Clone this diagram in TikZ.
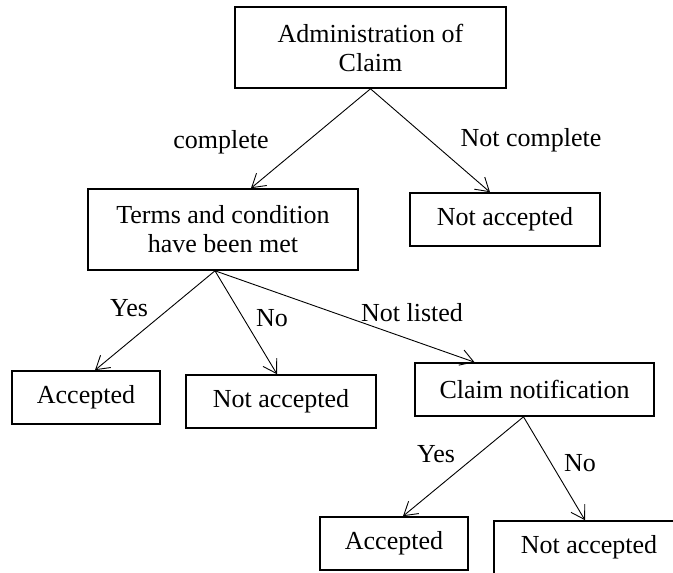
\documentclass[tikz,border=0pt]{standalone}
\usepackage{fontspec}
\setmainfont{Liberation Serif}
\usetikzlibrary{arrows.meta}

\begin{document}
\begin{tikzpicture}[x=1pt, y=-1pt,
    box/.style={draw, line width=1.6pt, inner sep=0pt, align=center, font=\fontsize{26}{29}\selectfont},
    lbl/.style={anchor=base, inner sep=0pt, font=\fontsize{26}{29}\selectfont},
    flow/.style={-{Straight Barb[length=13pt, width=16pt]}, line width=0.9pt}]
  % claim decision tree, laid out in pixel units with y running down
  \useasboundingbox (0,0) rectangle (673,573);
  \node[box, minimum width=271pt, minimum height=81pt] (admin) at (370.5,47.5) {Administration of\\Claim};
  \node[box, minimum width=270pt, minimum height=81pt] (terms) at (223,229.5) {Terms and condition\\have been met};
  \node[box, minimum width=190pt, minimum height=53pt] (rejA) at (505,219.5) {Not accepted};
  \node[box, minimum width=148pt, minimum height=53pt] (accA) at (86,397.5) {Accepted};
  \node[box, minimum width=190pt, minimum height=53pt] (rejB) at (281,401.5) {Not accepted};
  \node[box, minimum width=239pt, minimum height=53pt] (notif) at (534.5,389.5) {Claim notification};
  \node[box, minimum width=148pt, minimum height=53pt] (accB) at (394,543.5) {Accepted};
  \node[box, minimum width=190pt, minimum height=53pt] (rejC) at (589,547.5) {Not accepted};

  \draw[flow] (admin.south) -- ([xshift=28pt]terms.north);
  \draw[flow] (admin.south) -- ([xshift=-15pt]rejA.north);
  \draw[flow] ([xshift=-8pt]terms.south) -- ([xshift=9pt]accA.north);
  \draw[flow] ([xshift=-8pt]terms.south) -- ([xshift=-4pt]rejB.north);
  \draw[flow] ([xshift=-8pt]terms.south) -- ([xshift=-60pt]notif.north);
  \draw[flow] ([xshift=-11pt]notif.south) -- ([xshift=9pt]accB.north);
  \draw[flow] ([xshift=-11pt]notif.south) -- ([xshift=-4pt]rejC.north);

  \node[lbl] (lcomplete) at (221,148) {complete};
  \node[lbl] (lincomplete) at (531,146) {Not complete};
  \node[lbl] (lyesA) at (129,316) {Yes};
  \node[lbl] (lnoA) at (272,326) {No};
  \node[lbl] (lunlisted) at (412,321) {Not listed};
  \node[lbl] (lyesB) at (436,462) {Yes};
  \node[lbl] (lnoB) at (580,471) {No};
\end{tikzpicture}
\end{document}
